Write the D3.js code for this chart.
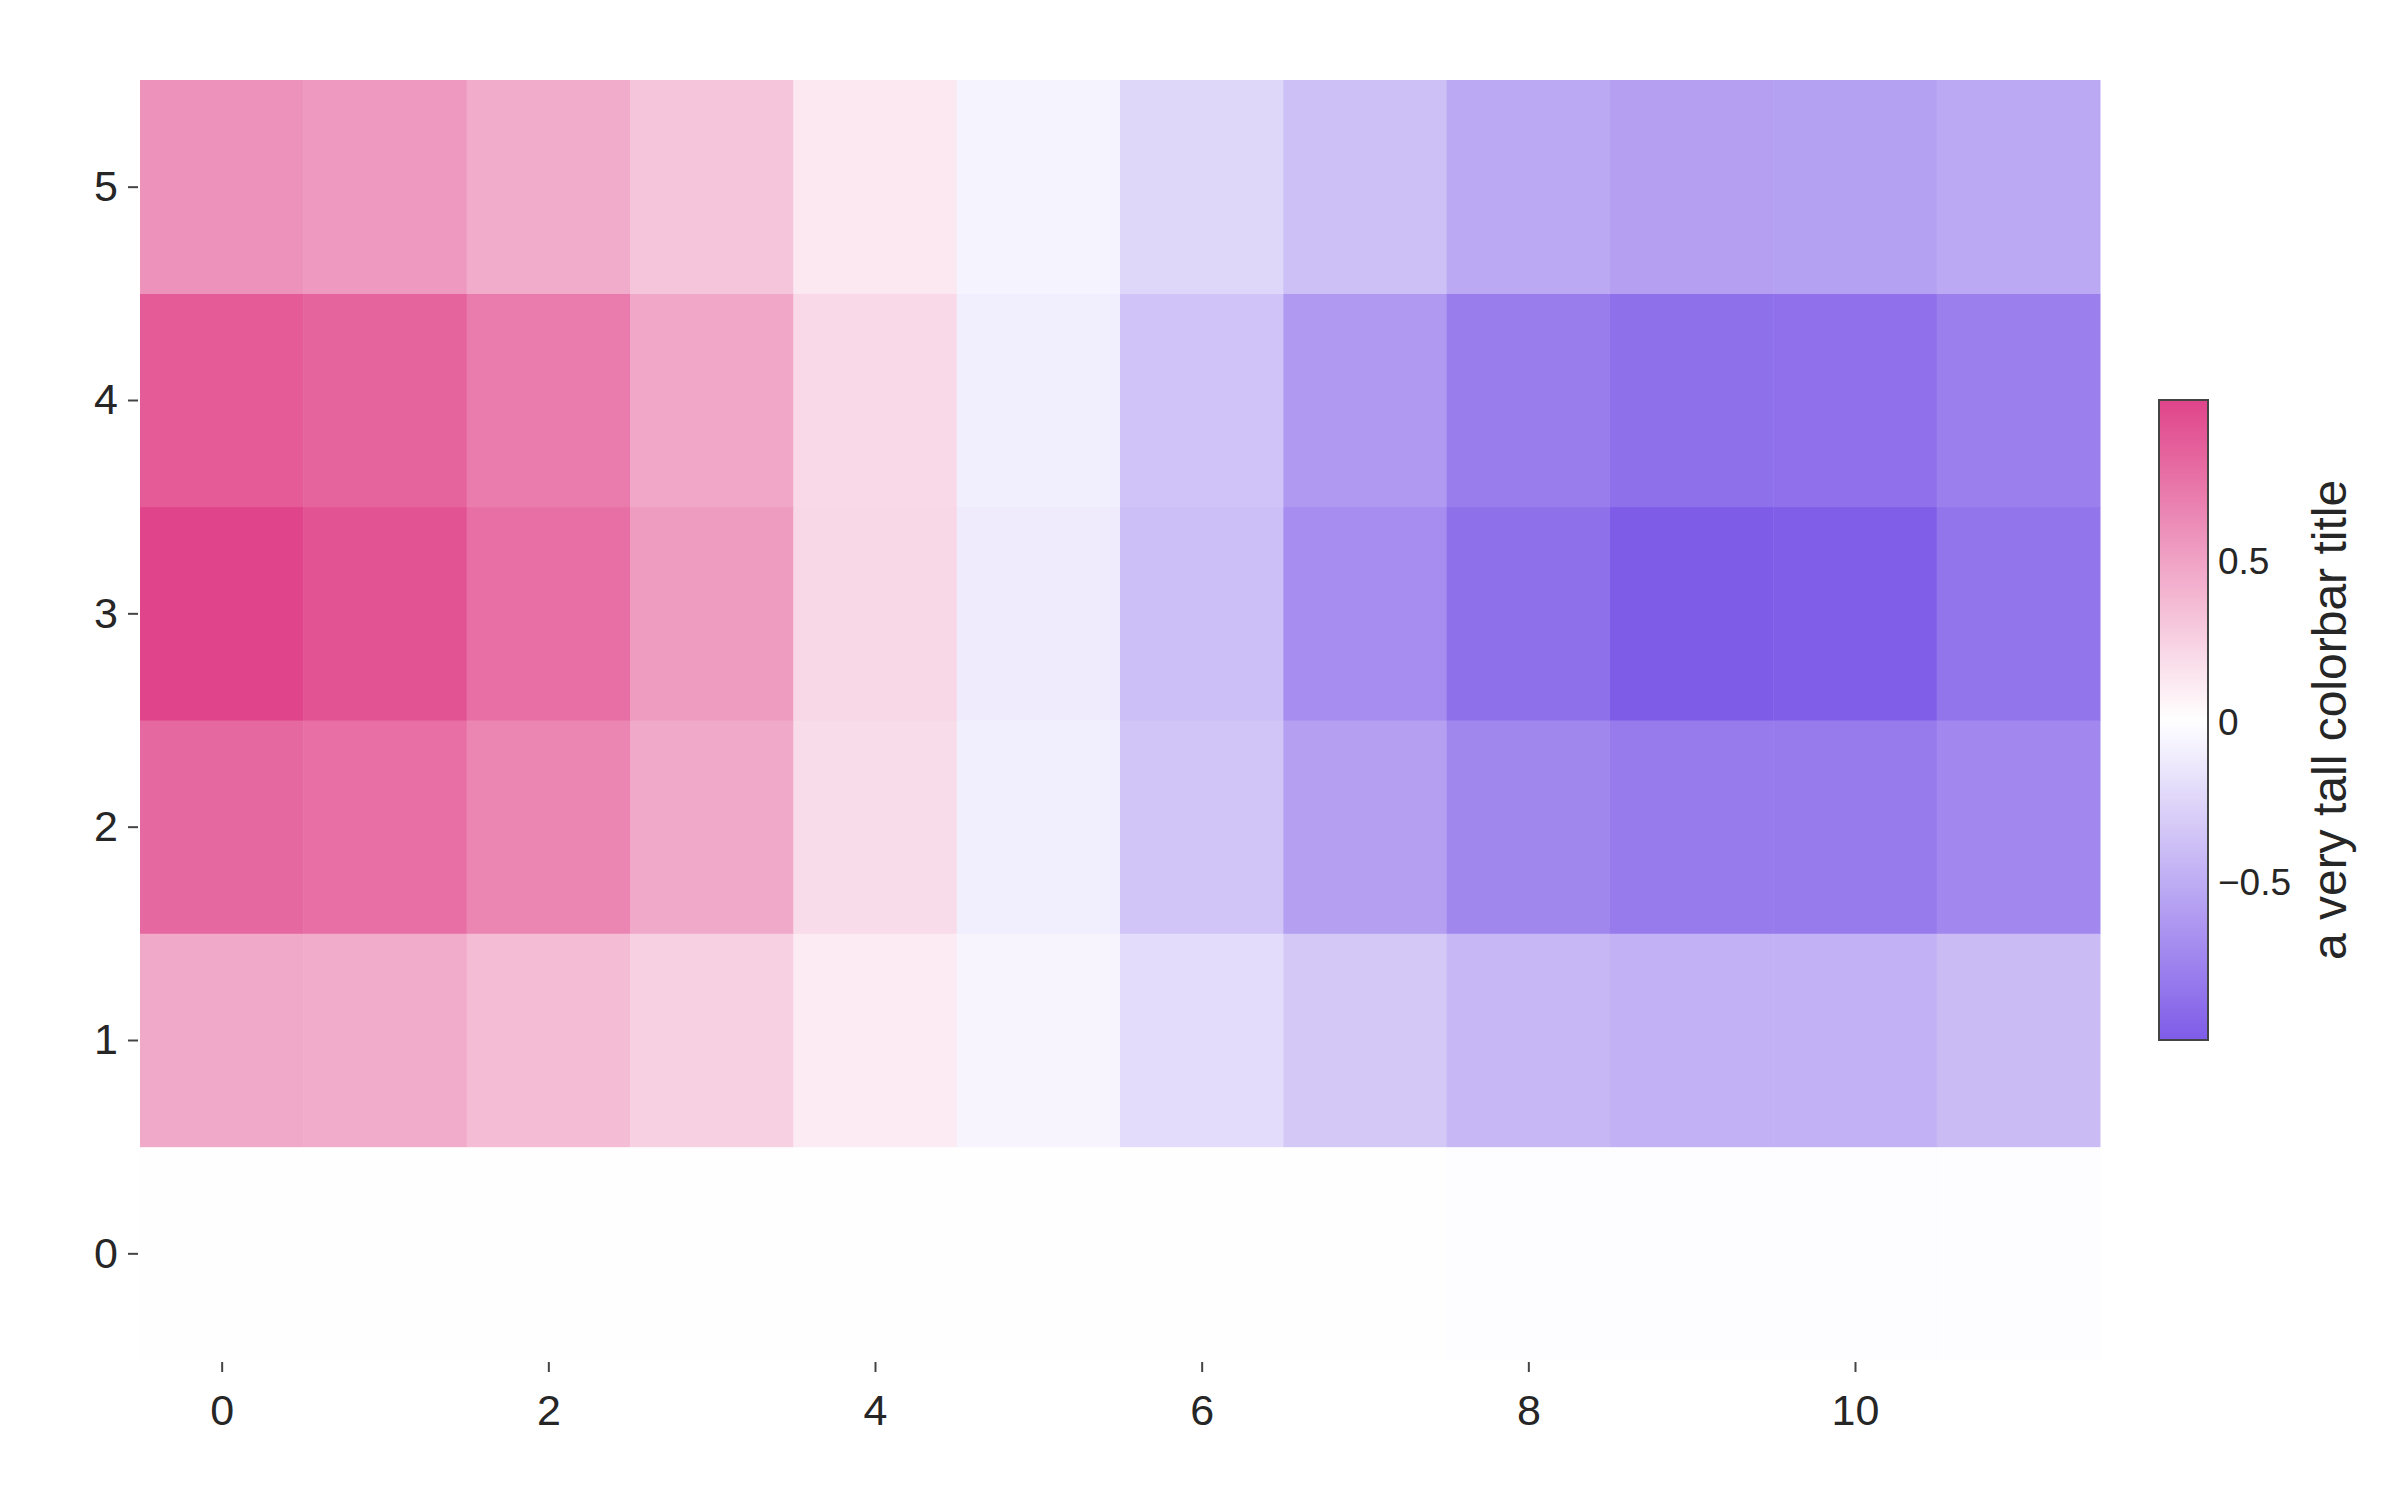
<!DOCTYPE html>
<html>
<head>
<meta charset="utf-8">
<script src="https://cdn.jsdelivr.net/npm/d3@7"></script>
<style>
	body { margin: 0; background: #fff; }
	text { font-family: 'Liberation Sans', Arial, sans-serif; fill: #262626; }
</style>
</head>
<body>
<svg id="chart" width="2400" height="1500"></svg>
<script>
// columns / rows of the grid
const xCats = d3.range(12);
const yCats = d3.range(6);

// cell values, one array per row (row 0 at the bottom)
const row0 = [0.01, 0.01, 0.01, 0.01, 0.0, 0.0, 0.0, 0.0, -0.01, -0.01, -0.01, -0.01];
const row1 = [0.46, 0.45, 0.36, 0.25, 0.11, -0.06, -0.21, -0.33, -0.43, -0.47, -0.47, -0.41];
const row2 = [0.81, 0.77, 0.65, 0.46, 0.19, -0.1, -0.35, -0.58, -0.73, -0.8, -0.8, -0.72];
const row3 = [1.0, 0.92, 0.77, 0.53, 0.22, -0.12, -0.39, -0.69, -0.87, -0.99, -0.98, -0.84];
const row4 = [0.88, 0.83, 0.7, 0.47, 0.21, -0.1, -0.36, -0.62, -0.79, -0.87, -0.86, -0.77];
const row5 = [0.58, 0.55, 0.45, 0.31, 0.13, -0.07, -0.24, -0.38, -0.52, -0.58, -0.57, -0.52];
const rows = [row0, row1, row2, row3, row4, row5];

const xTicks = [0, 2, 4, 6, 8, 10];
const yTicks = [0, 1, 2, 3, 4, 5];
const cbTicks = [-0.5, 0, 0.5];
const cbTitle = 'a very tall colorbar title';

const $svg = d3.select('#chart');

const x = d3.scaleLinear().domain([-0.5, 11.5]).range([140, 2100]);
const y = d3.scaleLinear().domain([-0.5, 5.5]).range([1360, 80]);

const zMin = d3.min(rows, r => d3.min(r));
const zMax = d3.max(rows, r => d3.max(r));
const color = d3.scaleLinear()
	.domain([zMin, (zMin + zMax) / 2, zMax])
	.range(['#7f5ce8', '#ffffff', '#e0448a']);

function drawCells() {
	const cells = [];
	rows.forEach((r, j) => r.forEach((v, i) => cells.push({ i, j, v })));
	$svg.append('g')
		.selectAll('rect')
		.data(cells)
		.enter()
		.append('rect')
		.attr('x', d => x(xCats[d.i] - 0.5))
		.attr('y', d => y(yCats[d.j] + 0.5))
		.attr('width', d => x(xCats[d.i] + 0.5) - x(xCats[d.i] - 0.5) + 0.5)
		.attr('height', d => y(yCats[d.j] - 0.5) - y(yCats[d.j] + 0.5) + 0.5)
		.attr('fill', d => color(d.v));
}

function drawAxes() {
	const xAxis = d3.axisBottom(x).tickValues(xTicks).tickSize(10).tickPadding(22);
	const $x = $svg.append('g')
		.attr('transform', 'translate(0,1362)')
		.call(xAxis);
	const yAxis = d3.axisLeft(y).tickValues(yTicks).tickSize(10).tickPadding(10)
		.tickFormat(d3.format('d'));
	const $y = $svg.append('g')
		.attr('transform', 'translate(138,0)')
		.call(yAxis);
	[$x, $y].forEach($a => {
		$a.select('.domain').remove();
		$a.selectAll('.tick line').attr('stroke', '#444').attr('stroke-width', 2);
		$a.selectAll('.tick text')
			.attr('font-family', "'Liberation Sans', Arial, sans-serif")
			.attr('font-size', 43)
			.attr('fill', '#262626');
	});
}

function drawColorbar() {
	const top = 400;
	const bottom = 1040;
	const left = 2159;
	const w = 49;
	const cb = d3.scaleLinear().domain([zMin, zMax]).range([bottom, top]);

	const grad = $svg.append('defs')
		.append('linearGradient')
		.attr('id', 'cb-grad')
		.attr('x1', 0).attr('y1', 1).attr('x2', 0).attr('y2', 0);
	d3.range(0, 1.0001, 0.05).forEach(t => {
		grad.append('stop')
			.attr('offset', t)
			.attr('stop-color', color(zMin + t * (zMax - zMin)));
	});

	$svg.append('rect')
		.attr('x', left)
		.attr('y', top)
		.attr('width', w)
		.attr('height', bottom - top)
		.attr('fill', 'url(#cb-grad)')
		.attr('stroke', '#444')
		.attr('stroke-width', 2);

	$svg.append('g')
		.selectAll('text')
		.data(cbTicks)
		.enter()
		.append('text')
		.attr('x', left + w + 10)
		.attr('y', d => cb(d))
		.attr('dy', '0.35em')
		.attr('font-size', 37)
		.text(d => d3.format('.1~f')(d).replace('-', '\u2212'));

	// title sits centred on the bar, reading bottom to top
	$svg.append('text')
		.attr('transform', 'translate(2346,720) rotate(-90)')
		.attr('text-anchor', 'middle')
		.attr('font-size', 48)
		.text(cbTitle);
}

drawCells();
drawAxes();
drawColorbar();
</script>
</body>
</html>
